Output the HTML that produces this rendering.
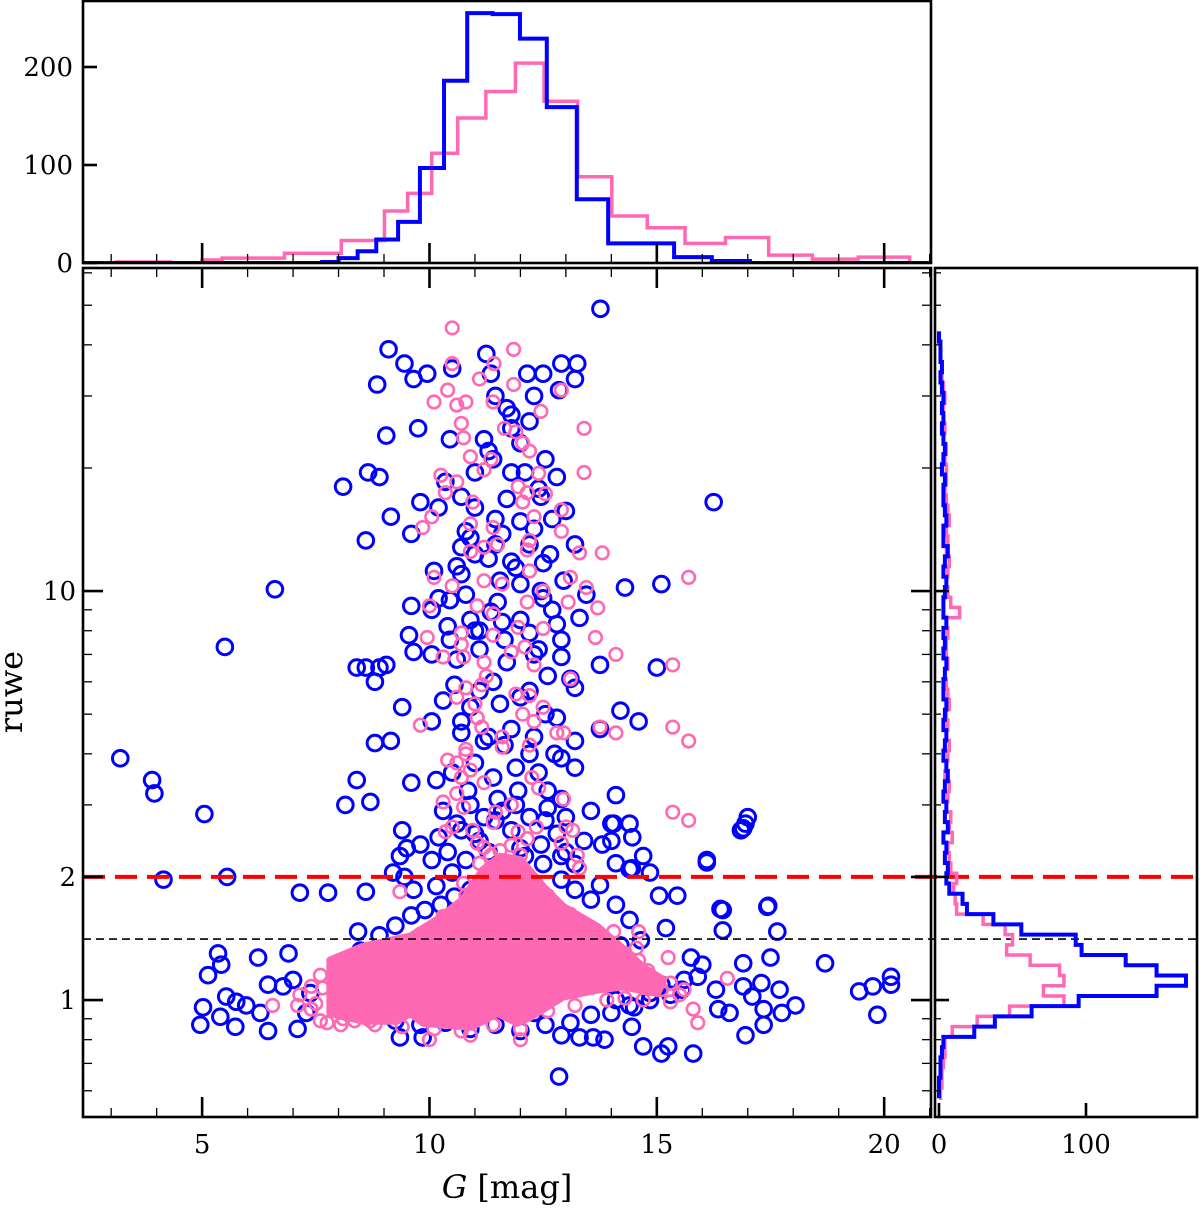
<!DOCTYPE html>
<html><head><meta charset="utf-8"><style>
html,body{margin:0;padding:0;background:#fff;}
svg{display:block;font-family:"DejaVu Serif","Liberation Serif",serif;}
</style></head>
<body>
<svg id="chart" width="1200" height="1209" viewBox="0 0 1200 1209" xmlns="http://www.w3.org/2000/svg"></svg>
<script>
// ---------- data ----------
const xTicksMajor = [5, 10, 15, 20];
const xTickLabels = ["5", "10", "15", "20"];
const yTicksMajor = [1, 2, 10];
const yTickLabels = ["1", "2", "10"];
const yTicksMinor = [0.6, 0.7, 0.8, 0.9, 3, 4, 5, 6, 7, 8, 9, 20, 30, 40, 50, 60];
const topHistTicks = [0, 100, 200];
const rightHistTicks = [0, 100];
const ruweCut = 2;
const ruweRef = 1.41;

const blueHistEdges = [2.4, 7.64, 8.0, 8.42, 8.83, 9.31, 9.79, 10.32, 10.83, 11.39, 11.99, 12.58, 13.24, 13.93, 15.38, 16.21, 17.05, 21];
const blueHistCounts = [0, 1, 5, 12, 24, 42, 97, 186, 255, 254, 229, 159, 65, 20, 6, 2, 0];
const pinkHistEdges = [2.4, 3.12, 3.71, 4.31, 5.0, 5.44, 6.1, 6.81, 7.52, 8.06, 9.01, 9.52, 10.05, 10.62, 11.24, 11.89, 12.52, 13.26, 14.01, 14.79, 15.62, 16.51, 17.46, 18.42, 19.43, 20.56];
const pinkHistCounts = [0, 1, 1, 0, 3, 5, 5, 10, 10, 23, 53, 71, 112, 148, 175, 204, 165, 88, 48, 36, 20, 26, 8, 4, 6];

const ruweBinStartLog = -0.24;
const ruweBinWidthLog = 0.025;
const blueRuweCounts = [0,0,1,1,2,3,24,38,63,95,148,168,148,127,97,93,56,37,19,16,7,5,
 6,4,5,3,6,4,5,3,4,6,5,3,4,5,3,4,5,3,3,4,5,3,4,3,5,3,3,4,5,3,4,6,3,3,5,4,3,3,4,2,3,4,3,2,3,2,3,2,1,2,1,1,0];
const pinkRuweCounts = [1,2,2,3,4,4,9,26,48,85,71,85,82,62,46,50,45,30,12,11,10,12,
 8,7,6,9,7,8,5,6,7,4,5,6,7,5,6,5,7,6,5,4,6,5,5,6,5,14,8,6,5,6,7,5,6,5,7,6,5,4,5,5,4,5,3,4,3,3,4,3,2,2,1,1,0];

// dense pink core outline (G, ruwe)
const pinkCoreG = [7.82,8.54,9.58,10.17,10.74,11.18,11.56,12.0,12.5,12.94,13.69,14.2,14.7,15.14,15.01,14.26,13.69,12.94,12.22,11.93,11.49,11.18,10.9,9.86,9.58,9.29,8.54,7.82];
const pinkCoreR = [1.25,1.35,1.43,1.57,1.76,2.08,2.24,2.2,1.89,1.69,1.51,1.35,1.2,1.12,1.04,1.08,1.06,1.02,0.91,0.88,0.93,0.89,0.86,0.88,0.93,0.89,0.89,0.93];

const blueG = [13.76,9.1,9.45,9.65,9.95,8.85,10.5,11.25,11.35,11.45,12.15,12.5,12.9,13.25,13.2,12.85,12.3,11.8,12.2,11.8,11.2,10.45,9.75,9.05,8.9,8.1,8.65,9.8,10.2,10.35,10.7,11,11.4,11.8,12.1,12.55,12.8,12.45,13,12.7,12,11.45,10.8,10.7,11,11.45,11.8,12.2,12.65,13.2,8.6,9.15,9.6,10.1,10.7,11.55,12,12.45,12.95,13.45,14.3,15.1,9.6,10.05,10.45,10.9,11.35,12,12.7,12.9,12.4,11.65,11.1,10.45,10.05,9.55,8.6,8.9,9.05,8.4,8.8,9.65,10.55,11.1,11.55,12.2,12.55,13.1,13.75,14.2,15,9.4,10.05,10.7,11.3,11.65,12.2,12.75,13.2,13.2,13.75,14.6,8.8,9.15,8.4,8.15,8.7,9.6,10.15,10.85,11.5,11.95,12.6,12.55,12.9,13.55,14.05,13.8,14.4,9.4,9.5,9.8,10.05,10.7,11.1,11.45,11.8,12,12.45,12.9,13.2,14,14.45,14.85,14.7,16.1,16.85,16.95,7.15,9.65,8.6,9.35,9.2,9.45,10.15,10.5,
 3.2,3.9,3.95,5.05,5.5,6.6,4.15,5.55,16.25,17.45,16.4,
 5.35,5.42,5.13,5.53,5.75,5.97,5.02,5.4,4.96,5.73,6.23,6.9,6.45,6.28,6.45,7.1,7,6.78,7.38,7.29,7.77,8.43,8.48,8.3,8.05,7.95,8.5,8.9,9.35,9.7,10.0,
 14.1,14.0,14.46,14.1,14.4,15.05,15.45,16.45,16.45,17.43,17.65,16.9,17.0,16.1,15.2,15.75,16,15.9,16.3,16.35,16.6,16.9,16.9,17.1,17.3,17.35,17.35,17.7,17.75,18.05,17.5,16.95,18.7,19.45,19.75,20.15,20.15,19.85,14.45,13.85,14.7,15.1,15.25,15.8,15.55,15.6,14.5,14.1,14.85,12.85,9.85,13.3,13.6,
 8.9,9.25,9.8,10.35,10.9,11.45,12,12.55,13.1,13.55,14,14.4,14.85,15.3,12.9,12.3,11.1,10,14,14.65,15.1,13.75,14.2,14.65,14.4,14.1,13.55,13.75,8.9,9.25,9.6,9.9,10.25,10.55,10.9,12.9,13.2,
 10.3,10.6,10.9,11.2,11.6,11.9,12.2,12.6,13.0,10.4,10.8,11.3,11.7,12.1,12.5,13.0,13.4,10.2,11.0,12.8,
 10.5,11.0,11.4,11.9,12.4,12.9,10.7,11.2,11.8,12.3,12.8,10.3,10.9,11.4,12.0,12.6,13.2,10.6,11.1,11.7,12.3,12.9,10.4,11.0,11.6,12.2,12.8,13.3,10.2,10.8,11.5,12.5,
 10.6,11.3,11.9,12.5,10.9,11.6,12.3,11.0,11.7,12.4,11.3,12.0,11.7];
const blueR = [49,39,36,33,34,32,35,38,34,30,34,34,36,36,33,31,30,27,26,25,23.5,23.5,25,24,19,18,19.5,16.5,16,18.5,17,19.5,21,19.5,19.5,21,19,17,15.7,15,14.8,15,14,12.8,12.3,13,11.8,13,12.3,13,13.3,15.2,13.8,11.2,11,10.6,10.4,10,10.6,9.8,10.2,10.4,9.2,9,9.5,8.5,8.9,8.5,9,7.6,7.2,7.6,8,7.6,7,7.8,6.5,6.5,6.6,6.5,6,7.1,5.9,5.7,5.3,5.7,5,6.1,6.6,5.1,6.5,5.2,4.8,4.8,4.4,4.2,4,4,3.7,4.3,4.6,4.8,4.25,4.3,3.45,3,3.05,3.4,3.45,3.25,3.1,3.25,3.25,2.75,3.1,2.9,2.7,2.4,2.7,2.6,2.35,2.4,2.2,2.6,2.45,2.75,2.6,2.35,2.4,2.25,2.15,2.45,2.1,2.05,2.25,2.2,2.6,2.7,1.83,1.86,1.84,2.25,2.05,2,1.9,2.05,
 3.9,3.45,3.2,2.85,7.3,10.1,1.97,2,16.5,1.7,1.67,
 1.3,1.22,1.15,1.02,0.99,0.97,0.96,0.91,0.87,0.86,1.27,1.3,1.09,0.93,0.84,0.85,1.12,1.08,1.04,0.93,1.83,1.47,1.32,0.98,1.0,1.13,0.94,1.18,0.81,0.99,1.07,
 3.17,2.7,2.5,2.16,2.09,1.8,1.8,1.66,1.48,1.69,1.47,2.63,2.8,2.17,1.5,1.27,1.22,1.14,1.06,0.95,0.93,1.23,1.08,1.02,1.1,0.95,0.87,1.06,0.93,0.97,1.27,0.82,1.23,1.05,1.08,1.14,1.09,0.92,0.86,0.8,0.77,0.74,0.77,0.74,1.06,1.12,0.96,1.0,1.04,0.65,0.81,0.81,0.81,
 0.92,0.89,0.87,0.88,0.85,0.87,0.84,0.87,0.88,0.92,0.93,0.97,1.0,1.03,0.82,0.93,0.93,0.96,1.09,1.15,1.09,1.29,1.36,1.4,1.57,1.71,1.76,1.91,1.44,1.52,1.61,1.66,1.71,1.79,1.86,1.97,1.86,
 2.9,2.7,3.0,2.8,2.9,3.0,2.8,2.95,2.8,2.3,2.2,2.3,2.15,2.25,2.15,2.3,2.45,2.5,2.55,2.55,
 3.6,3.8,3.5,3.7,3.6,3.9,4.5,4.3,4.6,4.4,4.9,5.4,5.2,6.0,5.5,6.2,5.8,6.8,7.2,6.7,7.0,6.9,8.2,8.0,8.4,7.9,8.3,8.6,9.6,9.8,9.4,9.6,
 11.5,12.0,11.4,11.7,13.5,13.8,14.2,16,16.8,17.8,22,23,28];

const pinkG = [10.5,11.85,10.5,11.42,11.1,11.85,12.9,10.1,10.4,10.6,10.8,11.4,12.45,10.7,10.75,13.4,11.65,11.9,12.05,12.2,10.9,11.35,11.2,10.25,10.6,10.35,12.4,13.4,11.95,12.15,12.55,10.95,12.05,12.3,12.9,10.05,9.85,10.9,11.4,11.5,11.2,10.9,12.15,12.2,12.9,13.3,13.8,15.7,10.1,10.5,11.2,11.6,12.2,12.5,13.1,13.45,13.7,13.05,12.15,10,11.05,11.4,11.95,12.5,9.95,10.7,13.65,14.1,15.35,10.3,10.75,11.2,11.8,12.3,13.1,11.25,
 10.8,10.6,11.15,12.2,9.8,11.05,11.15,12.05,12.3,12.8,12.95,13.75,14.1,11.6,10.8,10.4,10.6,10.9,10.7,12.25,15.35,15.7,15.35,15.7,10.3,10.75,11.45,11.4,12.95,13,10.35,10.5,10.95,11.95,12.35,12.9,13.15,11.05,11.2,13.25,13.3,9.35,10.75,12.15,
 15.25,16.55,15.3,15.8,15.9,15.6,14.6,14.55,14.05,14.3,
 6.55,7.1,7.75,7.65,8.05,8.5,8.7,8.85,7.15,7.4,7.6,8.05,8.35,8.25,
 10,12,10.9,14.85,14.6,15.1,13.75,11.55,11.8,11.35,12,11.1,
 8.0,8.6,9.2,9.8,10.3,10.8,11.2,11.6,12.1,12.6,13.1,13.7,14.3,14.8,15.3,15.5,14.7,13.9,13.2,12.6,12.0,11.4,10.7,10.1,9.4,8.8,8.1,7.5,7.4,7.6,
 10.6,11.2,11.8,12.4,10.8,11.6,12.2,11.0,11.9,12.5,10.7,11.4,12.1];
const pinkR = [44,39,36,36,33,32,31,29,31,28.5,29,29,27.5,25.7,23.7,25,25,24.5,23,22,21.3,21,19.8,19.2,18.5,17.4,19.4,19.5,18,17.4,17.3,16.5,16.5,15.2,15.8,15.2,14.3,14.6,14.3,13,12.8,12.5,12.6,13.3,14,12.4,12.4,10.8,10.8,10.3,10.6,10.4,11.2,10,10.8,10.2,9.1,9.4,9.4,9.2,9.2,8.8,8.15,8.1,7.7,7.9,7.7,7,6.6,6.9,6.9,6.7,7.1,6.6,6.1,6.2,
 5.8,5.5,5.9,5.55,4.7,4.9,4.65,5.0,4.8,4.5,4.5,4.65,4.5,4.15,4.1,3.86,3.8,3.65,3.5,3.5,4.65,4.3,2.88,2.75,3.05,2.96,2.88,2.72,3.1,2.65,2.58,2.65,2.6,2.58,2.65,2.42,2.6,2.42,2.36,2.26,2.1,1.84,1.93,2.48,
 1.27,1.13,0.99,0.95,0.88,1.06,1.47,1.34,1.47,1.01,
 0.97,0.97,0.88,1.07,1.18,0.93,0.89,1.34,1.03,0.95,0.89,0.87,0.89,1.09,
 0.8,0.8,0.82,1.15,1.25,1.06,1.25,2.32,2.39,2.26,2.26,2.16,
 1.2,1.3,1.37,1.45,1.6,1.8,2.0,2.1,2.05,1.8,1.62,1.45,1.3,1.18,1.1,1.03,1.0,1.0,0.97,0.94,0.85,0.87,0.84,0.85,0.86,0.87,0.9,0.98,1.08,1.15,
 3.2,3.4,3.0,3.3,4.0,4.4,4.2,5.3,5.6,5.2,7.4,7.8,7.3];

// ---------- geometry ----------
const M = {x0: 83, x1: 931, y0: 268, y1: 1117};
const T = {y0: 1, y1: 263};
const R = {x0: 935, x1: 1197};
const gMin = 2.38, gMax = 21.03;
const lMin = -0.286, lMax = 1.79;
const X = g => M.x0 + (g - gMin) / (gMax - gMin) * (M.x1 - M.x0);
const Y = r => M.y1 - (Math.log10(r) - lMin) / (lMax - lMin) * (M.y1 - M.y0);
const YL = l => M.y1 - (l - lMin) / (lMax - lMin) * (M.y1 - M.y0);
const HY = c => 263 - c * 0.98;
const HX = c => 939 + c * 1.47;

const NS = "http://www.w3.org/2000/svg";
const svg = document.getElementById('chart');
function el(tag, attrs, parent) {
  const e = document.createElementNS(NS, tag);
  for (const k in attrs) e.setAttribute(k, attrs[k]);
  (parent || svg).appendChild(e);
  return e;
}
function grp(name) {
  const g = el('g', {});
  
  
  return g;
}

const defs = el('defs', {});
const cp1 = el('clipPath', {id: 'clipMain'}, defs);
el('rect', {x: M.x0, y: M.y0, width: M.x1 - M.x0, height: M.y1 - M.y0}, cp1);
const cp2 = el('clipPath', {id: 'clipTop'}, defs);
el('rect', {x: M.x0, y: T.y0, width: M.x1 - M.x0, height: T.y1 - T.y0}, cp2);
const cp3 = el('clipPath', {id: 'clipRight'}, defs);
el('rect', {x: R.x0, y: M.y0, width: R.x1 - R.x0, height: M.y1 - M.y0}, cp3);

// ---------- scatter ----------
const scat = grp('scatter-points');
scat.setAttribute('clip-path', 'url(#clipMain)');
const blueGrp = grp('blue-series');
scat.appendChild(blueGrp);
blueG.forEach((g, i) => {
  const c = el('circle', {cx: X(g), cy: Y(blueR[i]), r: 7.8, fill: 'none', stroke: '#0000ff', 'stroke-width': 3}, blueGrp);
  
  
});
const core = el('polygon', {
  points: pinkCoreG.map((g, i) => X(g) + ',' + Y(pinkCoreR[i])).join(' '),
  fill: '#ff69b4', stroke: '#ff69b4', 'stroke-width': 8, 'stroke-linejoin': 'round'
}, scat);


const pinkGrp = grp('pink-series');
scat.appendChild(pinkGrp);
pinkG.forEach((g, i) => {
  const c = el('circle', {cx: X(g), cy: Y(pinkR[i]), r: 6.3, fill: 'none', stroke: '#ff69b4', 'stroke-width': 2.6}, pinkGrp);
  
  
});

// ---------- reference lines ----------
const redL = el('line', {x1: M.x0, x2: R.x1, y1: Y(ruweCut), y2: Y(ruweCut), stroke: '#ff0000', 'stroke-width': 4, 'stroke-dasharray': '22,10'});


const blkL = el('line', {x1: M.x0, x2: R.x1, y1: Y(ruweRef), y2: Y(ruweRef), stroke: '#000', 'stroke-width': 1.6, 'stroke-dasharray': '8,5'});



// ---------- top histogram ----------
function stepPathX(edges, counts) {
  let d = 'M' + X(edges[0]) + ',' + HY(0);
  counts.forEach((c, i) => { d += ' L' + X(edges[i]) + ',' + HY(c) + ' L' + X(edges[i + 1]) + ',' + HY(c); });
  d += ' L' + X(edges[edges.length - 1]) + ',' + HY(0);
  return d;
}
const topG = grp('top-histogram');
topG.setAttribute('clip-path', 'url(#clipTop)');
const hp = el('path', {d: stepPathX(pinkHistEdges, pinkHistCounts), fill: 'none', stroke: '#ff69b4', 'stroke-width': 3.5}, topG);


const hb = el('path', {d: stepPathX(blueHistEdges, blueHistCounts), fill: 'none', stroke: '#0000ff', 'stroke-width': 4}, topG);



// ---------- right histogram ----------
function stepPathY(counts) {
  let d = 'M' + HX(0) + ',' + YL(ruweBinStartLog);
  counts.forEach((c, i) => {
    const a = ruweBinStartLog + i * ruweBinWidthLog, b = a + ruweBinWidthLog;
    d += ' L' + HX(c) + ',' + YL(a) + ' L' + HX(c) + ',' + YL(b);
  });
  d += ' L' + HX(0) + ',' + YL(ruweBinStartLog + counts.length * ruweBinWidthLog);
  return d;
}
const rG = grp('right-histogram');
rG.setAttribute('clip-path', 'url(#clipRight)');
const rp = el('path', {d: stepPathY(pinkRuweCounts), fill: 'none', stroke: '#ff69b4', 'stroke-width': 3.5}, rG);


const rb = el('path', {d: stepPathY(blueRuweCounts), fill: 'none', stroke: '#0000ff', 'stroke-width': 4}, rG);



// ---------- frames ----------
function frame(name, x, y, w, h) {
  const r = el('rect', {x: x, y: y, width: w, height: h, fill: 'none', stroke: '#000', 'stroke-width': 2.6});
  
  
}
frame('main-plot-frame', M.x0, M.y0, M.x1 - M.x0, M.y1 - M.y0);
frame('top-histogram-frame', M.x0, T.y0, M.x1 - M.x0, T.y1 - T.y0);
frame('right-histogram-frame', R.x0, M.y0, R.x1 - R.x0, M.y1 - M.y0);

// ---------- ticks ----------
const tk = grp('ticks');
function tick(x1, y1, x2, y2, w) { el('line', {x1, y1, x2, y2, stroke: '#000', 'stroke-width': w}, tk); }
for (let g = 3; g <= 21; g++) {
  const major = xTicksMajor.includes(g);
  const L = major ? 20 : 9, w = major ? 2.6 : 1.3, x = X(g);
  tick(x, M.y1, x, M.y1 - L, w); tick(x, M.y0, x, M.y0 + L, w);
  tick(x, T.y1, x, T.y1 - L, w);
}
yTicksMajor.forEach(r => { const y = Y(r); tick(M.x0, y, M.x0 + 20, y, 2.6); tick(M.x1, y, M.x1 - 20, y, 2.6); tick(R.x0, y, R.x0 + 14, y, 2.6); });
yTicksMinor.forEach(r => { const y = Y(r); tick(M.x0, y, M.x0 + 9, y, 1.3); tick(M.x1, y, M.x1 - 9, y, 1.3); tick(R.x0, y, R.x0 + 6, y, 1.3); });
topHistTicks.forEach(c => { tick(M.x0, HY(c), M.x0 + 14, HY(c), 2.6); });
rightHistTicks.forEach(c => { tick(HX(c), M.y1, HX(c), M.y1 - 14, 2.6); });

// ---------- labels ----------
const lab = grp('tick-labels');
function text(s, x, y, anchor, size, name) {
  const t = el('text', {x, y, 'text-anchor': anchor, 'font-size': size, fill: '#000'}, lab);
  t.textContent = s;
  
  
  return t;
}
xTicksMajor.forEach((g, i) => text(xTickLabels[i], X(g), 1153, 'middle', 26, 'x-tick-label'));
yTicksMajor.forEach((r, i) => text(yTickLabels[i], 76, Y(r) + 9, 'end', 26, 'y-tick-label'));
topHistTicks.forEach(c => text(String(c), 73, HY(c) + 9, 'end', 26, 'top-hist-tick-label'));
rightHistTicks.forEach(c => text(String(c), HX(c), 1153, 'middle', 26, 'right-hist-tick-label'));

const xt = el('text', {x: 507, y: 1198, 'text-anchor': 'middle', 'font-size': 32, fill: '#000'});


const xti = el('tspan', {'font-style': 'italic'}, xt);
xti.textContent = 'G';
const xtr = el('tspan', {}, xt);
xtr.textContent = ' [mag]';
const yt = el('text', {x: 0, y: 0, 'text-anchor': 'middle', 'font-size': 32, fill: '#000', transform: 'translate(22,692) rotate(-90)'});
yt.textContent = 'ruwe';


</script>
</body></html>
